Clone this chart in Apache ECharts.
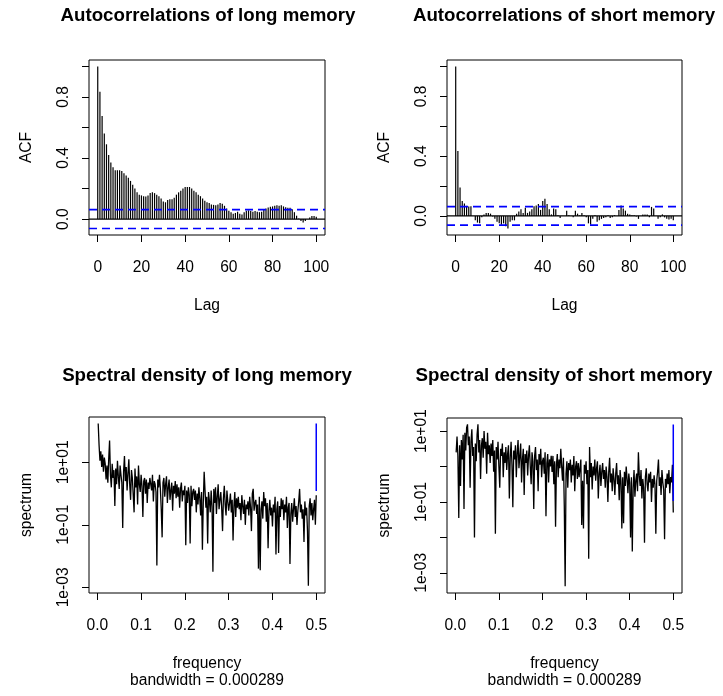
<!DOCTYPE html>
<html>
<head>
<meta charset="utf-8">
<script src="https://cdn.jsdelivr.net/npm/echarts@6/dist/echarts.min.js"></script>
<style>
  html, body { margin: 0; padding: 0; background: #fff; }
  #chart { width: 723px; height: 696px; }
</style>
</head>
<body>
<div id="chart"></div>
<script>
// ACF values, lag 0..100
const acfLong = [
  1.0, 0.835, 0.675, 0.56, 0.49, 0.42, 0.37, 0.34, 0.32, 0.32,
  0.32, 0.315, 0.30, 0.285, 0.27, 0.25, 0.225, 0.20, 0.175, 0.16,
  0.155, 0.15, 0.148, 0.155, 0.17, 0.175, 0.17, 0.16, 0.15, 0.135,
  0.115, 0.11, 0.125, 0.13, 0.13, 0.14, 0.16, 0.175, 0.185, 0.20,
  0.21, 0.21, 0.21, 0.20, 0.185, 0.175, 0.16, 0.15, 0.135, 0.12,
  0.11, 0.105, 0.095, 0.093, 0.09, 0.095, 0.105, 0.10, 0.087, 0.07,
  0.055, 0.045, 0.035, 0.04, 0.048, 0.035, 0.03, 0.045, 0.055, 0.057,
  0.052, 0.048, 0.052, 0.048, 0.045, 0.048, 0.06, 0.07, 0.076, 0.08,
  0.083, 0.087, 0.09, 0.087, 0.09, 0.083, 0.078, 0.074, 0.074, 0.065,
  0.045, 0.022, 0.004, -0.013, -0.022, -0.013, 0.0, 0.01, 0.02, 0.02,
  0.015
];
const acfShort = [
  1.0, 0.435, 0.19, 0.10, 0.083, 0.067, 0.062, 0.065, 0.0, -0.03,
  -0.045, -0.05, -0.01, 0.01, 0.02, 0.02, 0.015, -0.005, -0.02, -0.04,
  -0.05, -0.06, -0.05, -0.07, -0.085, -0.04, -0.03, -0.03, 0.015, 0.03,
  0.045, 0.02, 0.055, 0.02, 0.03, 0.045, 0.065, 0.07, 0.08, 0.04,
  0.10, 0.115, 0.08, 0.045, 0.01, 0.05, 0.045, 0.005, -0.015, 0.0,
  0.0, 0.035, 0.005, 0.0, -0.01, 0.035, 0.015, 0.005, 0.02, 0.005,
  -0.01, -0.05, -0.06, -0.02, 0.005, -0.04, -0.03, -0.02, -0.015, -0.01,
  0.005, -0.015, -0.01, 0.005, 0.0, 0.04, 0.07, 0.05, 0.035, 0.015,
  0.01, 0.005, 0.005, -0.005, -0.02, 0.0, 0.01, 0.01, 0.01, -0.01,
  0.06, 0.05, 0.0, -0.02, -0.01, 0.01, -0.01, -0.02, -0.025, -0.02,
  -0.03
];
const clim = 0.062;

// periodogram, log10 of spectrum, frequencies 0.002, 0.004, ... 0.5
const specLongLog = [
  2.24, 1.55, 1.05, 1.35, 0.85, 1.25, 0.7, 1.15, 0.95, 0.45,
  0.9, 0.35, 1.1, 1.7, 0.6, 0.2, 0.95, 0.5, 0.75, -0.4,
  0.8, 0.3, 1.05, 0.55, 0.15, 0.9, 0.6, 0.35, -1.1, 0.7,
  1.2, 0.4, 0.85, 0.1, 0.65, 1.1, 0.3, -0.2, 0.75, 0.5,
  0.45, -0.6, 0.8, 0.2, 0.55, -0.35, 0.9, 0.3, 0.05, 0.6,
  0.25, -0.75, 0.4, 0.5, 0.0, 0.45, -0.3, 0.35, 0.15, 0.5,
  0.55, 0.1, 0.6, -0.25, 0.4, 0.3, 0.05, -2.3, 0.45, 0.2,
  0.6, 0.15, -0.5, -1.4, 0.35, 0.5, -0.1, 0.3, 0.55, -0.3,
  0.2, 0.45, -0.2, 0.1, 0.35, -0.55, 0.25, 0.0, 0.4, -0.15,
  0.3, -0.1, 0.2, -0.45, 0.15, 0.35, -0.25, 0.1, -0.05, 0.25,
  -1.65, 0.1, -0.3, 0.2, -0.05, -1.6, 0.25, -0.4, 0.05, 0.15,
  -0.2, 0.1, -0.6, 0.0, -0.35, 0.2, -0.15, -0.7, 0.05, -1.8,
  -0.3, 0.7, 0.1, -0.45, -0.1, -1.6, 0.05, -0.25, -0.6, 0.1,
  -0.4, -2.5, 0.15, -0.3, 0.2, -0.65, -0.1, 0.3, -0.5, -0.2,
  0.05, -0.45, -1.2, -0.15, 0.25, -0.35, -0.7, 0.1, -0.25, -0.55,
  -0.3, 0.0, -0.6, -0.2, -1.5, -0.4, 0.05, -0.75, -0.15, -0.45,
  -0.1, -0.5, -0.3, -0.85, -0.05, -0.4, -0.65, -0.2, -1.0, -0.35,
  -0.5, -0.25, -0.7, -0.1, -0.45, -1.2, 0.0, 0.15, -0.55, -0.3,
  -0.2, -0.65, -0.35, -2.4, -0.1, -2.45, -0.5, -0.25, -0.8, 0.05,
  -0.4, -0.15, -0.9, -0.3, -1.75, -0.55, -0.2, -0.7, -0.45, -1.05,
  -0.35, -0.6, -0.1, -1.95, -0.5, -0.25, -1.9, -0.4, -0.75, -0.15,
  -0.5, -0.2, -0.85, -0.35, -0.6, -0.1, -1.1, -0.45, -0.3, -2.25,
  -0.65, -0.3, -0.9, -0.5, -0.15, -0.75, -0.4, -1.0, -0.55, -0.25,
  0.15, -0.6, -0.35, -0.8, -0.5, -1.55, -0.25, -0.7, -0.45, -1.2,
  -2.95, -0.4, -0.15, -0.7, -0.3, -0.85, -0.5, -0.2, -1.0, -0.05
];
const specShortLog = [
  0.4, 0.85, 0.3, -1.45, 0.6, -0.55, 0.75, 0.2, 0.9, -1.2,
  0.95, 0.45, 1.1, 1.19, 0.6, 0.85, -0.6, 0.7, 1.05, 0.3,
  0.55, -2.0, 0.65, 0.15, 0.9, 1.19, 0.4, 0.75, -0.35, 0.6,
  0.8, 0.25, 1.0, 0.5, 0.7, -0.2, 0.95, 0.35, 0.6, 0.1,
  0.65, 0.3, 0.75, -0.15, 0.45, -1.9, 0.55, 0.2, 0.7, 0.0,
  -0.6, 0.5, 0.3, 0.65, -0.3, 0.4, 0.1, 0.55, -0.1, 0.35,
  0.6, -0.9, 0.25, 0.7, 0.05, -1.15, 0.45, 0.2, 0.6, -0.3,
  0.4, 0.75, -0.05, 0.3, 0.65, -0.45, 0.2, 0.5, -0.8, 0.35,
  0.1, 0.45, -0.25, 0.3, 0.6, 0.0, -0.5, 0.4, 0.15, -1.2,
  0.3, 0.55, -0.1, 0.2, -0.7, 0.35, 0.05, 0.5, -0.3, 0.15,
  0.25, -0.2, 0.4, -1.4, 0.1, 0.35, -0.45, 0.2, 0.0, 0.3,
  -0.15, 0.3, -0.5, 0.15, -1.7, 0.05, 0.35, -0.3, 0.2, -0.05,
  0.5, 0.0, -0.4, 0.25, -1.1, -3.38, -0.2, 0.15, -0.6, 0.1,
  -0.1, 0.2, -0.45, 0.05, -0.25, 0.3, -0.7, 0.0, 0.15, -0.35,
  0.1, -0.3, -0.05, 0.2, -1.65, -0.4, -1.75, 0.05, -0.2, 0.15,
  -0.5, -0.1, -2.6, 0.55, -0.3, 0.1, -0.65, 0.0, -0.25, 0.2,
  -0.4, -0.05, 0.15, -0.9, -0.2, 0.05, -0.55, -0.15, 0.1, -0.35,
  -0.1, -0.6, 0.0, -0.3, -1.0, -0.15, 0.25, -0.45, -0.2, -0.7,
  -0.05, -0.35, -0.8, -0.2, 0.1, -0.5, -0.25, -0.95, -0.1, -0.4,
  -1.75, -0.3, -1.6, -0.15, -0.55, 0.0, -0.35, -0.75, -0.2, -0.45,
  -2.0, -0.3, -2.4, -0.6, -0.1, -0.85, -0.4, -0.2, -0.7, 0.4,
  -0.25, -0.55, -0.1, -0.9, -0.35, -0.6, -2.15, -0.3, -0.05, -0.5,
  -0.7, -0.2, -0.45, -0.15, -1.0, -0.35, -0.6, -0.25, -0.5, -1.9,
  -0.4, -0.15, 0.2, -0.55, -0.3, -0.8, -0.1, -0.45, -0.65, -2.05,
  -0.35, -0.6, -0.2, -0.5, -0.1, -0.75, -0.3, -0.45, 0.05, -1.3
];
// confidence bars (log10 top, bottom)
const ciLong = [2.24, 0.08];
const ciShort = [1.19, -0.97];

const lagTicks = [0, 20, 40, 60, 80, 100];
const freqTicks = [0, 0.1, 0.2, 0.3, 0.4, 0.5];
const acfTicks = [0, 0.2, 0.4, 0.6, 0.8, 1.0];
const acfLabels = [0, 0.4, 0.8];

const FONT = '"Liberation Sans", Arial, Helvetica, sans-serif';
const chart = echarts.init(document.getElementById('chart'), null, { renderer: 'canvas' });

const grids = [
  { left: 89, top: 60, width: 236, height: 175 },
  { left: 447, top: 60, width: 235, height: 175 },
  { left: 89, top: 417, width: 236, height: 176 },
  { left: 447, top: 418, width: 235, height: 175 }
];

const txt = { color: '#000', fontSize: 15.6, fontFamily: FONT };

function xAxis(i, min, max, ticks, name, fmt) {
  return {
    gridIndex: i, type: 'value', min: min, max: max,
    axisLine: { show: false, onZero: false },
    axisTick: { show: true, inside: false, length: 7, lineStyle: { color: '#000' }, customValues: ticks },
    axisLabel: Object.assign({ customValues: ticks, margin: 25, formatter: fmt }, txt),
    splitLine: { show: false },
    name: name, nameLocation: 'middle', nameGap: 62,
    nameTextStyle: Object.assign({ lineHeight: 17 }, txt)
  };
}
function yAxis(i, min, max, ticks, labels, name, fmt) {
  return {
    gridIndex: i, type: 'value', min: min, max: max,
    axisLine: { show: false, onZero: false },
    axisTick: { show: true, inside: false, length: 7, lineStyle: { color: '#000' }, customValues: ticks },
    axisLabel: Object.assign({ customValues: labels, margin: 17, rotate: 90, formatter: fmt }, txt),
    splitLine: { show: false },
    name: name, nameLocation: 'middle', nameGap: 54,
    nameTextStyle: txt
  };
}

const fmtAcf = v => v.toFixed(1);
const fmtFreq = v => v.toFixed(1);
const fmtLog = v => {
  const e = Math.round(v);
  return '1e' + (e < 0 ? '-' : '+') + String(Math.abs(e)).padStart(2, '0');
};

function acfSeries(i, vals) {
  return {
    type: 'bar', xAxisIndex: i, yAxisIndex: i, barWidth: 1.2, z: 2,
    itemStyle: { color: '#000' },
    data: vals.map((v, k) => [k, v])
  };
}
// horizontal reference line across the whole plot region
function hLine(i, y, color, dash, w) {
  return {
    type: 'line', xAxisIndex: i, yAxisIndex: i, showSymbol: false, silent: true,
    lineStyle: { color: color, width: w, type: dash },
    data: [[-4, y], [104, y]], z: 10, zlevel: 1
  };
}
function specSeries(i, vals) {
  return {
    type: 'line', xAxisIndex: i, yAxisIndex: i, showSymbol: false,
    lineStyle: { color: '#000', width: 1.3 },
    data: vals.map((v, k) => [0.002 * (k + 1), v])
  };
}
function ciSeries(i, ci) {
  return {
    type: 'line', xAxisIndex: i, yAxisIndex: i, showSymbol: false,
    lineStyle: { color: '#0000ff', width: 1.5 },
    data: [[0.5, ci[0]], [0.5, ci[1]]], z: 3
  };
}

const titleFont = 'bold 18.7px ' + FONT;
const titles = [
  ['Autocorrelations of long memory', 208, 16],
  ['Autocorrelations of short memory', 564, 16],
  ['Spectral density of long memory', 207, 376],
  ['Spectral density of short memory', 564, 376]
];

chart.setOption({
  animation: false,
  grid: grids.map(g => Object.assign({ show: true, borderColor: '#000', borderWidth: 1, containLabel: false }, g)),
  xAxis: [
    xAxis(0, -4, 104, lagTicks, 'Lag', v => String(v)),
    xAxis(1, -4, 104, lagTicks, 'Lag', v => String(v)),
    xAxis(2, -0.019, 0.52, freqTicks, 'frequency\nbandwidth = 0.000289', fmtFreq),
    xAxis(3, -0.019, 0.52, freqTicks, 'frequency\nbandwidth = 0.000289', fmtFreq)
  ],
  yAxis: [
    yAxis(0, -0.1045, 1.0425, acfTicks, acfLabels, 'ACF', fmtAcf),
    yAxis(1, -0.128, 1.0434, acfTicks, acfLabels, 'ACF', fmtAcf),
    yAxis(2, -3.18, 2.45, [-3, -1, 1], [-3, -1, 1], 'spectrum', fmtLog),
    yAxis(3, -3.57, 1.37, [-3, -2, -1, 0, 1], [-3, -1, 1], 'spectrum', fmtLog)
  ],
  series: [
    acfSeries(0, acfLong),
    hLine(0, 0, '#000', 'solid', 1.2),
    hLine(0, clim, '#0000ff', [8, 5], 1.6),
    hLine(0, -clim, '#0000ff', [8, 5], 1.6),
    acfSeries(1, acfShort),
    hLine(1, 0, '#000', 'solid', 1.2),
    hLine(1, clim, '#0000ff', [8, 5], 1.6),
    hLine(1, -clim, '#0000ff', [8, 5], 1.6),
    specSeries(2, specLongLog),
    ciSeries(2, ciLong),
    specSeries(3, specShortLog),
    ciSeries(3, ciShort)
  ],
  graphic: titles.map(t => ({
    type: 'text', x: t[1], y: t[2], silent: true,
    style: { text: t[0], font: titleFont, fill: '#000', textAlign: 'center', textVerticalAlign: 'middle' }
  }))
});
</script>
</body>
</html>
